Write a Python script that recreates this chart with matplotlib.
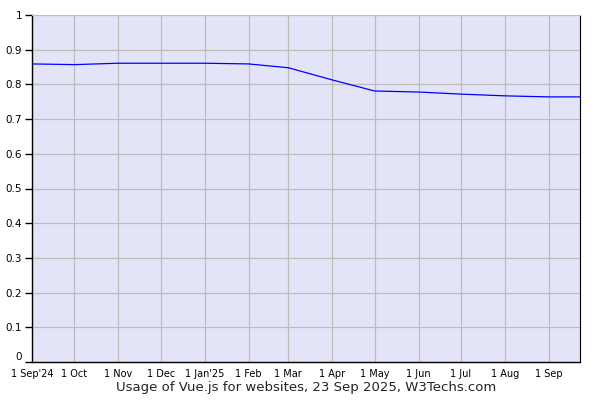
import matplotlib
matplotlib.use("Agg")
import matplotlib.pyplot as plt
import matplotlib.dates as mdates
import numpy as np
from datetime import date

dates = [date(2024, 9, 1), date(2024, 10, 1), date(2024, 11, 1), date(2024, 12, 1),
         date(2025, 1, 1), date(2025, 2, 1), date(2025, 3, 1), date(2025, 4, 1),
         date(2025, 5, 1), date(2025, 6, 1), date(2025, 7, 1), date(2025, 8, 1),
         date(2025, 9, 1), date(2025, 9, 23)]
usage = [0.859, 0.857, 0.861, 0.861, 0.861, 0.859, 0.848, 0.813,
         0.781, 0.778, 0.772, 0.767, 0.764, 0.764]

tick_dates = [date(2024, 9, 1), date(2024, 10, 1), date(2024, 11, 1), date(2024, 12, 1),
              date(2025, 1, 1), date(2025, 2, 1), date(2025, 3, 1), date(2025, 4, 1),
              date(2025, 5, 1), date(2025, 6, 1), date(2025, 7, 1), date(2025, 8, 1),
              date(2025, 9, 1)]
tick_labels = ["1 Sep'24", "1 Oct", "1 Nov", "1 Dec", "1 Jan'25", "1 Feb", "1 Mar",
               "1 Apr", "1 May", "1 Jun", "1 Jul", "1 Aug", "1 Sep"]
y_ticks = [0, 0.1, 0.2, 0.3, 0.4, 0.5, 0.6, 0.7, 0.8, 0.9, 1]
y_labels = ["0", "0.1", "0.2", "0.3", "0.4", "0.5", "0.6", "0.7", "0.8", "0.9", "1"]

fig = plt.figure(figsize=(6, 4), dpi=100)
ax = fig.add_axes([32/600, 38/400, 548/600, 347/400])
ax.set_facecolor("#e4e4f8")

ax.plot(dates, usage, color="#0000ff", linewidth=0.9)

ax.set_xlim(date(2024, 9, 1), date(2025, 9, 23))
ax.set_ylim(0, 1)
ax.set_xticks([mdates.date2num(d) for d in tick_dates])
ax.set_xticklabels(tick_labels, fontsize=7)
ax.set_yticks(y_ticks)
ax.set_yticklabels(y_labels, fontsize=7.5)
ax.tick_params(axis="x", length=0, pad=5)
ax.tick_params(axis="y", length=5, width=1, pad=2)
# lift the "0" label a bit so it clears the first date label
ax.get_yticklabels()[0].set_va("bottom")
ax.grid(True, color="#bdbdbd", linewidth=0.9)
ax.set_axisbelow(True)

ax.spines["top"].set_color("#bdbdbd")
ax.spines["right"].set_color("black")
ax.spines["left"].set_linewidth(1)
ax.spines["bottom"].set_linewidth(1)

fig.text(306/600, 1 - 387/400, "Usage of Vue.js for websites, 23 Sep 2025, W3Techs.com",
         ha="center", va="center", fontsize=9.5, color="#222222")

fig.savefig("out.png", dpi=100)
